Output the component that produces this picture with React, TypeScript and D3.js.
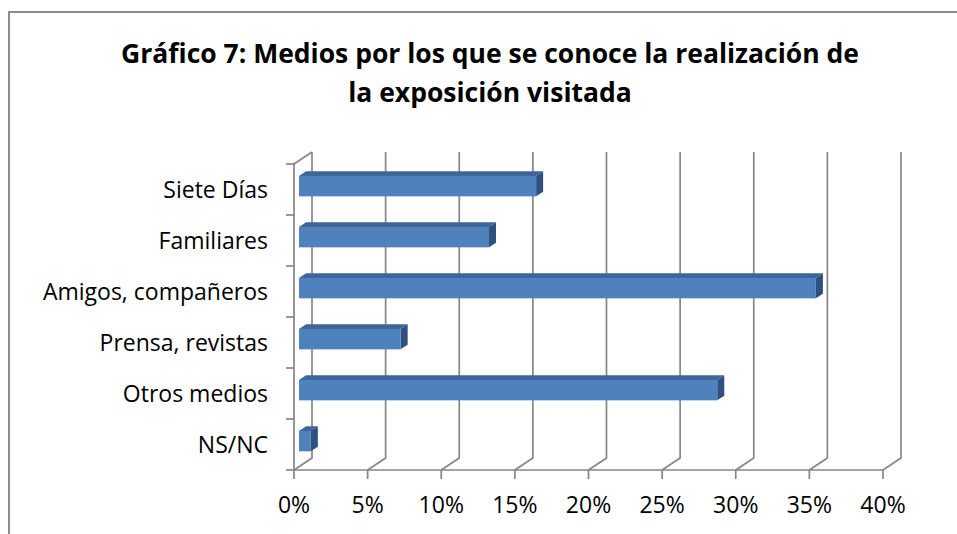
import React from 'react'
import * as d3 from 'd3'

const categories = ['Siete Días', 'Familiares', 'Amigos, compañeros', 'Prensa, revistas', 'Otros medios', 'NS/NC']
const values = [16.1, 12.9, 35.1, 6.9, 28.4, 0.8]
const tickValues = [0, 5, 10, 15, 20, 25, 30, 35, 40]
const titleLines = ['Gráfico 7: Medios por los que se conoce la realización de', 'la exposición visitada']

const W = 957
const H = 534
// depth of the 3d box (back wall offset)
const DX = 18
const DY = -12
const F0 = 0.28 // bar front, as part of depth
const F1 = 0.67 // bar back

const gridColor = '#868686'
const font = '"Open Sans", "DejaVu Sans", sans-serif'

const App = () => {
  const x = d3.scaleLinear().domain([0, 40]).range([294, 883])
  const y = d3.scaleBand().domain(categories).range([164, 470])
  const bw = y.bandwidth()
  const barH = bw * 0.4

  const fx = F0 * DX, fy = F0 * DY
  const dx = (F1 - F0) * DX, dy = (F1 - F0) * DY

  return (
    <svg width={W} height={H} style={{ position: 'absolute', left: 0, top: 0, background: '#fff' }}>
      {/* frame */}
      <path d={`M9,${H}V12H${W}`} fill="none" stroke="#8c8c8c" strokeWidth={2} />

      {titleLines.map((t, i) => (
        <text key={i} x={490} y={63 + i * 39} textAnchor="middle" fontFamily={font} fontWeight="bold"
          fontSize={26.5} fill="#000">{t}</text>
      ))}

      {/* back wall gridlines + floor diagonals */}
      <g stroke={gridColor} strokeWidth={1.7} fill="none">
        {tickValues.map(t => (
          <path key={t} d={`M${x(t)},${470}L${x(t) + DX},${470 + DY}V${164 + DY}`} />
        ))}
        {/* left wall */}
        <path d={`M${x(0) + DX},${164 + DY}L${x(0)},164V470H${x(40)}`} />
        {categories.map(c => (
          <line key={c} x1={x(0) - 8} x2={x(0)} y1={y(c)!} y2={y(c)!} />
        ))}
        <line x1={x(0) - 8} x2={x(0)} y1={470} y2={470} />
        {tickValues.map(t => (
          <line key={'t' + t} x1={x(t)} x2={x(t)} y1={470} y2={479} />
        ))}
      </g>

      {/* bars */}
      {categories.map((c, i) => {
        const cy = y(c)! + bw / 2 + fy
        const yt = cy - barH / 2
        const yb = cy + barH / 2
        const xl = x(0) + fx
        const xr = x(values[i]) + fx
        return (
          <g key={c}>
            <polygon points={`${xl},${yt} ${xr},${yt} ${xr + dx},${yt + dy} ${xl + dx},${yt + dy}`} fill="#3e6599" />
            <polygon points={`${xr},${yt} ${xr + dx},${yt + dy} ${xr + dx},${yb + dy} ${xr},${yb}`} fill="#2f5180" />
            <rect x={xl} y={yt} width={xr - xl} height={barH} fill="#4f81bd" />
          </g>
        )
      })}

      {/* category labels */}
      {categories.map(c => (
        <text key={c} x={268} y={y(c)! + bw / 2 + 8} textAnchor="end" fontFamily={font} fontSize={23} fill="#000">{c}</text>
      ))}

      {/* value axis labels */}
      {tickValues.map(t => (
        <text key={t} x={x(t)} y={513} textAnchor="middle" fontFamily={font} fontSize={23} fill="#000">{t}%</text>
      ))}
    </svg>
  )
}

export default App
